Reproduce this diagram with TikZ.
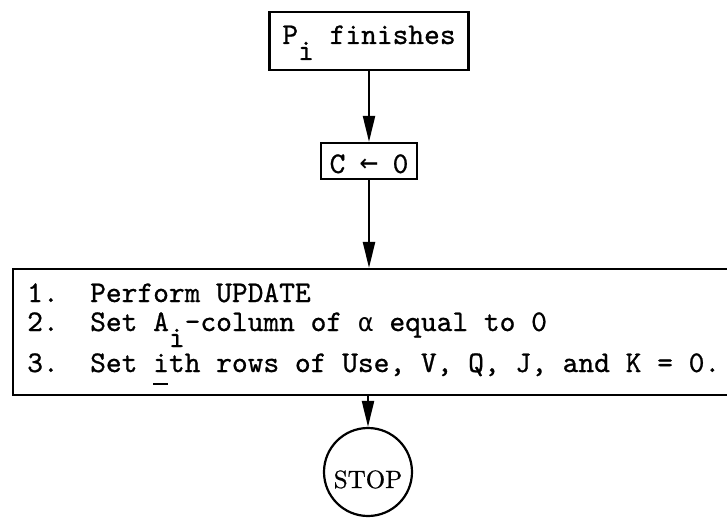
\documentclass[tikz,border=0pt]{standalone}
\usepackage{amsmath}
\usepackage{fontspec}
\usepackage{tikz}
\usetikzlibrary{arrows.meta}

\newfontfamily\typeface{lmmono10-regular}[Extension=.otf,FakeBold=0.8]
\newfontfamily\symface{DejaVu Sans Mono}
\newfontfamily\stopface{lmroman10-regular}[Extension=.otf,FakeBold=0.8]
\newcommand{\tw}{\typeface\fontsize{30}{28}\selectfont\frenchspacing}
% typed half a line lower
\newcommand{\lowi}{\raisebox{-16pt}[0pt][0pt]{i}}
\newcommand{\undi}{\rlap{\rule[-13pt]{15pt}{2pt}}i}
\newcommand{\onechar}[2][25]{\makebox[15.75pt]{\symface\fontsize{#1}{#1}\selectfont#2}}

\begin{document}
\begin{tikzpicture}[x=1pt,y=-1pt,
  box/.style={draw, line width=2.2pt, inner sep=0pt, font=\tw},
  txt/.style={anchor=base west, inner sep=0pt, font=\tw},
  flow/.style={line width=2.2pt, -{Triangle[length=26pt,width=12pt]}}]
\path[use as bounding box, clip] (0,0) rectangle (727,518);

\node[box, minimum width=199pt, text height=32pt, text depth=26pt] (finish) at (369,41) {P\lowi{} finishes};
\node[box, minimum width=96pt, text height=30pt, text depth=6pt] (clear) at (369,161)
  {C~\onechar[31]{←}~0};

% list of steps, box runs off to the right
\node[box, anchor=north west, minimum width=740pt, minimum height=126pt] (steps) at (12,268) {};
\node[txt] (step1) at (27,302) {1.~~Perform UPDATE};
\node[txt] (step2) at (27,331) {2.~~Set A\lowi-column of \onechar{α} equal to 0};
\node[txt] (step3) at (27,372) {3.~~Set \undi th rows of Use, V, Q, J, and K = 0.};

\node[draw, circle, line width=2.2pt, minimum size=88pt, inner sep=0pt,
  text height=32pt, text depth=0pt, font=\stopface\fontsize{25}{25}\selectfont] (stop) at (368,472) {STOP};

\draw[flow] (finish.south) -- (clear.north);
\draw[flow] (clear.south) -- (clear.south |- steps.north);
\draw[flow] (stop |- steps.south) -- (stop.north);
\end{tikzpicture}
\end{document}
